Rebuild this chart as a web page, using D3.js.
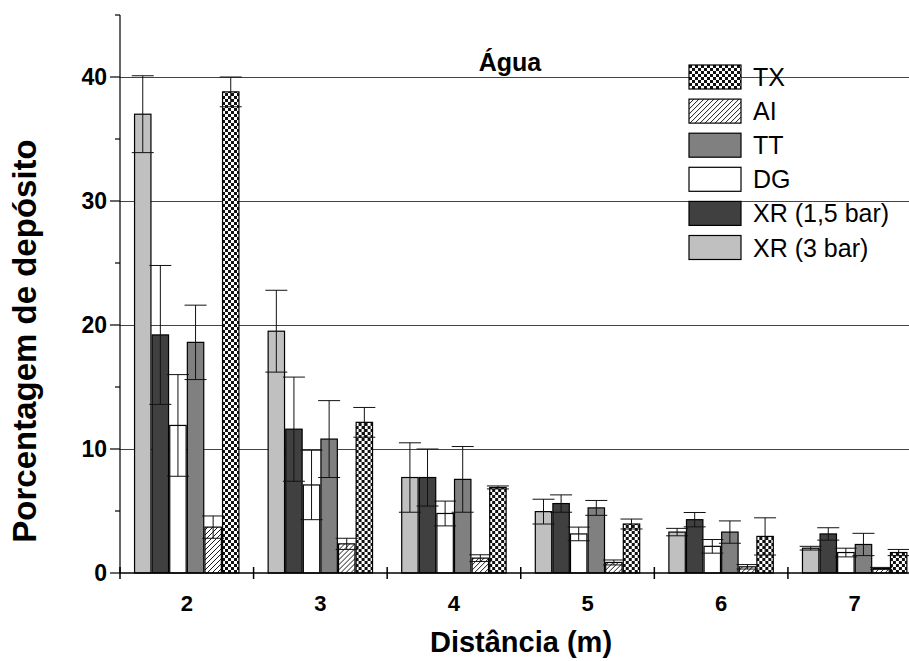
<!DOCTYPE html>
<html>
<head>
<meta charset="utf-8">
<script src="https://cdn.jsdelivr.net/npm/d3@7/dist/d3.min.js"></script>
<style>
  html, body { margin: 0; padding: 0; background: #fff; }
  svg { display: block; }
</style>
</head>
<body>
<svg id="chart" width="909" height="661"></svg>
<script>
// Distances (m) along the x axis
const distances = ['2', '3', '4', '5', '6', '7'];

// Series in drawing order within each group
const seriesNames = ['XR (3 bar)', 'XR (1,5 bar)', 'DG', 'TT', 'AI', 'TX'];

// Deposit percentage per distance, and the error half-widths
const xr3     = [37.0, 19.5, 7.7, 4.95, 3.3, 2.0];
const xr3Err  = [3.1, 3.3, 2.8, 1.0, 0.3, 0.15];
const xr15    = [19.2, 11.6, 7.7, 5.6, 4.3, 3.15];
const xr15Err = [5.6, 4.2, 2.3, 0.7, 0.58, 0.5];
const dg      = [11.9, 7.1, 4.8, 3.15, 2.15, 1.65];
const dgErr   = [4.1, 2.8, 1.0, 0.55, 0.55, 0.35];
const tt      = [18.6, 10.8, 7.55, 5.25, 3.3, 2.3];
const ttErr   = [3.0, 3.1, 2.65, 0.6, 0.9, 0.9];
const ai      = [3.7, 2.35, 1.2, 0.85, 0.5, 0.37];
const aiErr   = [0.9, 0.45, 0.27, 0.2, 0.18, 0.08];
const tx      = [38.8, 12.15, 6.9, 3.95, 2.95, 1.65];
const txErr   = [1.2, 1.2, 0.12, 0.4, 1.5, 0.25];

// Axis ticks
const yMajorTicks = [0, 10, 20, 30, 40];
const yMinorTicks = [5, 15, 25, 35, 45];
const legendOrder = ['TX', 'AI', 'TT', 'DG', 'XR (1,5 bar)', 'XR (3 bar)'];

const values = [xr3, xr15, dg, tt, ai, tx];
const errors = [xr3Err, xr15Err, dgErr, ttErr, aiErr, txErr];

const fills = {
  'XR (3 bar)': '#c0c0c0',
  'XR (1,5 bar)': '#404040',
  'DG': '#ffffff',
  'TT': '#808080',
  'AI': 'url(#hatch)',
  'TX': 'url(#checker)'
};

const FONT = "'Liberation Sans', Arial, Helvetica, sans-serif";
const svg = d3.select('#chart');

// Fill patterns
const defs = svg.append('defs');
const hatch = defs.append('pattern')
  .attr('id', 'hatch').attr('patternUnits', 'userSpaceOnUse')
  .attr('width', 5).attr('height', 5);
hatch.append('rect').attr('width', 5).attr('height', 5).attr('fill', '#fff');
hatch.append('path')
  .attr('d', 'M0,5 L5,0 M-1,1 L1,-1 M4,6 L6,4')
  .attr('stroke', '#000').attr('stroke-width', 0.9);

const checker = defs.append('pattern')
  .attr('id', 'checker').attr('patternUnits', 'userSpaceOnUse')
  .attr('width', 6).attr('height', 6);
checker.append('rect').attr('width', 6).attr('height', 6).attr('fill', '#fff');
checker.append('rect').attr('x', 0).attr('y', 0).attr('width', 3).attr('height', 3).attr('fill', '#111');
checker.append('rect').attr('x', 3).attr('y', 3).attr('width', 3).attr('height', 3).attr('fill', '#111');

// Scales
const x0 = d3.scaleBand().domain(distances).range([120, 921.5]).padding(0);
const x1 = d3.scaleBand().domain(seriesNames).range([14.55, 118.95]).paddingInner(0.068).paddingOuter(0);
const y = d3.scaleLinear().domain([0, 45]).range([573, 15]);

// Horizontal grid lines
svg.append('g')
  .attr('shape-rendering', 'crispEdges')
  .selectAll('line')
  .data(yMajorTicks.filter(d => d > 0))
  .join('line')
  .attr('x1', 120).attr('x2', 909)
  .attr('y1', d => y(d) + 0.5).attr('y2', d => y(d) + 0.5)
  .attr('stroke', '#444').attr('stroke-width', 1);

// Bars
const groups = svg.append('g')
  .selectAll('g')
  .data(distances)
  .join('g')
  .attr('transform', d => `translate(${x0(d)},0)`);

groups.selectAll('rect')
  .data((d, gi) => seriesNames.map((s, si) => ({ s, v: values[si][gi] })))
  .join('rect')
  .attr('x', d => x1(d.s))
  .attr('y', d => y(d.v))
  .attr('width', x1.bandwidth())
  .attr('height', d => y(0) - y(d.v))
  .attr('fill', d => fills[d.s])
  .attr('stroke', '#000')
  .attr('stroke-width', 1.2);

// Error bars drawn over all bars
const capHalf = 11;
groups.each(function (dist, gi) {
  const g = d3.select(this);
  seriesNames.forEach((s, si) => {
    const v = values[si][gi], e = errors[si][gi];
    const cx = x1(s) + x1.bandwidth() / 2;
    const eb = g.append('g').attr('stroke', '#111').attr('stroke-width', 1);
    eb.append('line').attr('x1', cx).attr('x2', cx).attr('y1', y(v + e)).attr('y2', y(v - e));
    [v + e, v - e].forEach(t => {
      eb.append('line').attr('x1', cx - capHalf).attr('x2', cx + capHalf)
        .attr('y1', y(t)).attr('y2', y(t));
    });
  });
});

// Y axis
const yAxis = svg.append('g').attr('stroke', '#000');
yAxis.append('line').attr('x1', 120).attr('x2', 120).attr('y1', y(45)).attr('y2', y(0)).attr('stroke-width', 1.2);
yAxis.selectAll('.maj').data(yMajorTicks).join('line').attr('class', 'maj')
  .attr('x1', 110).attr('x2', 120).attr('y1', d => y(d)).attr('y2', d => y(d)).attr('stroke-width', 1.2);
yAxis.selectAll('.min').data(yMinorTicks).join('line').attr('class', 'min')
  .attr('x1', 115).attr('x2', 120).attr('y1', d => y(d)).attr('y2', d => y(d)).attr('stroke-width', 1.2);
svg.append('g').selectAll('text').data(yMajorTicks).join('text')
  .attr('x', 107).attr('y', d => y(d)).attr('dy', '0.36em')
  .attr('text-anchor', 'end')
  .attr('font-family', FONT).attr('font-weight', 'bold').attr('font-size', 23)
  .text(d => d);

// X axis
const xAxis = svg.append('g').attr('stroke', '#000');
xAxis.append('line').attr('x1', 120).attr('x2', 909).attr('y1', y(0)).attr('y2', y(0)).attr('stroke-width', 1.5);
xAxis.selectAll('.tk').data(distances.concat(['end'])).join('line').attr('class', 'tk')
  .attr('x1', (d, i) => 120 + i * x0.step()).attr('x2', (d, i) => 120 + i * x0.step())
  .attr('y1', y(0) - 6).attr('y2', y(0) + 6).attr('stroke-width', 1.5);
svg.append('g').selectAll('text').data(distances).join('text')
  .attr('x', d => x0(d) + x0.bandwidth() / 2).attr('y', 611)
  .attr('text-anchor', 'middle')
  .attr('font-family', FONT).attr('font-weight', 'bold').attr('font-size', 22)
  .text(d => d);

// Axis titles
svg.append('text')
  .attr('x', 521).attr('y', 652)
  .attr('text-anchor', 'middle')
  .attr('font-family', FONT).attr('font-weight', 'bold').attr('font-size', 29)
  .text('Distância (m)');
svg.append('text')
  .attr('transform', 'translate(36,341) rotate(-90)')
  .attr('text-anchor', 'middle')
  .attr('font-family', FONT).attr('font-weight', 'bold').attr('font-size', 33)
  .text('Porcentagem de depósito');

// Panel title
svg.append('text')
  .attr('x', 510).attr('y', 71)
  .attr('text-anchor', 'middle')
  .attr('font-family', FONT).attr('font-weight', 'bold').attr('font-size', 25)
  .text('Água');

// Legend
const legend = svg.append('g');
const legendRows = legend.selectAll('g').data(legendOrder).join('g')
  .attr('transform', (d, i) => `translate(689,${65 + i * 34.1})`);
legendRows.append('rect')
  .attr('width', 52).attr('height', 24)
  .attr('fill', d => fills[d])
  .attr('stroke', '#000').attr('stroke-width', 1.2);
legendRows.append('text')
  .attr('x', 64).attr('y', 12).attr('dy', '0.36em')
  .attr('font-family', FONT).attr('font-size', 25)
  .text(d => d);
</script>
</body>
</html>
